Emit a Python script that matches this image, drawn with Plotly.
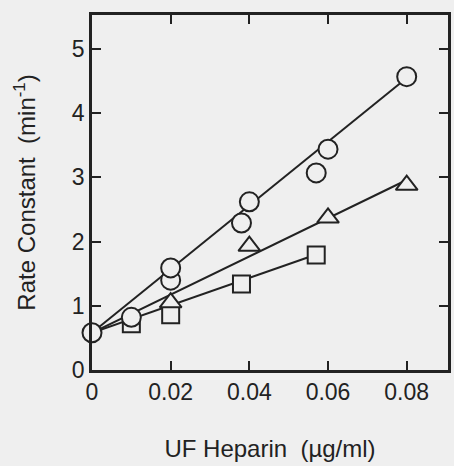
import plotly.graph_objects as go

# Data
circle_x = [0.0, 0.01, 0.02, 0.02, 0.038, 0.04, 0.057, 0.06, 0.08]
circle_y = [0.58, 0.82, 1.40, 1.59, 2.29, 2.62, 3.07, 3.44, 4.57]
triangle_x = [0.02, 0.04, 0.06, 0.08]
triangle_y = [1.05, 1.93, 2.37, 2.88]
square_x = [0.01, 0.02, 0.038, 0.057]
square_y = [0.72, 0.86, 1.34, 1.79]

# Fitted lines (start and end of each)
fit_circle_x = [0.0, 0.08]
fit_circle_y = [0.58, 4.55]
fit_triangle_x = [0.0, 0.08]
fit_triangle_y = [0.58, 2.96]
fit_square_x = [0.0, 0.057]
fit_square_y = [0.58, 1.80]

x_ticks = [0, 0.02, 0.04, 0.06, 0.08]
x_tick_labels = ["0", "0.02", "0.04", "0.06", "0.08"]
y_ticks = [0, 1, 2, 3, 4, 5]
y_tick_labels = ["0", "1", "2", "3", "4", "5"]

ink = "#222222"
bg = "#efefef"

fig = go.Figure()
for fx, fy in [(fit_circle_x, fit_circle_y), (fit_triangle_x, fit_triangle_y), (fit_square_x, fit_square_y)]:
    fig.add_trace(go.Scatter(x=fx, y=fy, mode="lines", line=dict(color=ink, width=2),
                             showlegend=False, cliponaxis=False, hoverinfo="skip"))

marker_line = dict(color=ink, width=2)
fig.add_trace(go.Scatter(x=square_x, y=square_y, mode="markers", cliponaxis=False, showlegend=False,
                         marker=dict(symbol="square", size=17, color=bg, line=marker_line)))
fig.add_trace(go.Scatter(x=triangle_x, y=triangle_y, mode="markers", cliponaxis=False, showlegend=False,
                         marker=dict(symbol="triangle-up", size=19, color=bg, line=marker_line)))
fig.add_trace(go.Scatter(x=circle_x, y=circle_y, mode="markers", cliponaxis=False, showlegend=False,
                         marker=dict(symbol="circle", size=19, color=bg, line=marker_line)))

tick_font = dict(family="Liberation Sans, Arial, sans-serif", size=23, color=ink)
title_font = dict(family="Liberation Sans, Arial, sans-serif", size=24, color=ink)
fig.update_layout(
    width=454, height=466,
    margin=dict(l=92, r=3, t=15, b=96),
    paper_bgcolor=bg, plot_bgcolor=bg,
    font=tick_font,
    xaxis=dict(range=[0, 0.0905], tickvals=x_ticks, ticktext=x_tick_labels,
               ticks="inside", ticklen=9, tickwidth=2, tickcolor=ink, tickfont=tick_font,
               showline=True, linewidth=2.5, linecolor=ink, mirror="allticks",
               showgrid=False, zeroline=False,
               title=dict(text="UF Heparin\u00a0\u00a0(\u00b5g/ml)", standoff=36, font=title_font)),
    yaxis=dict(range=[0, 5.53], tickvals=y_ticks, ticktext=y_tick_labels,
               ticks="inside", ticklen=9, tickwidth=2, tickcolor=ink, tickfont=tick_font,
               showline=True, linewidth=2.5, linecolor=ink, mirror="allticks",
               showgrid=False, zeroline=False,
               title=dict(text="Rate Constant\u00a0\u00a0(min<sup>-1</sup>)", standoff=30, font=title_font)),
)

fig.write_html("out.html")
